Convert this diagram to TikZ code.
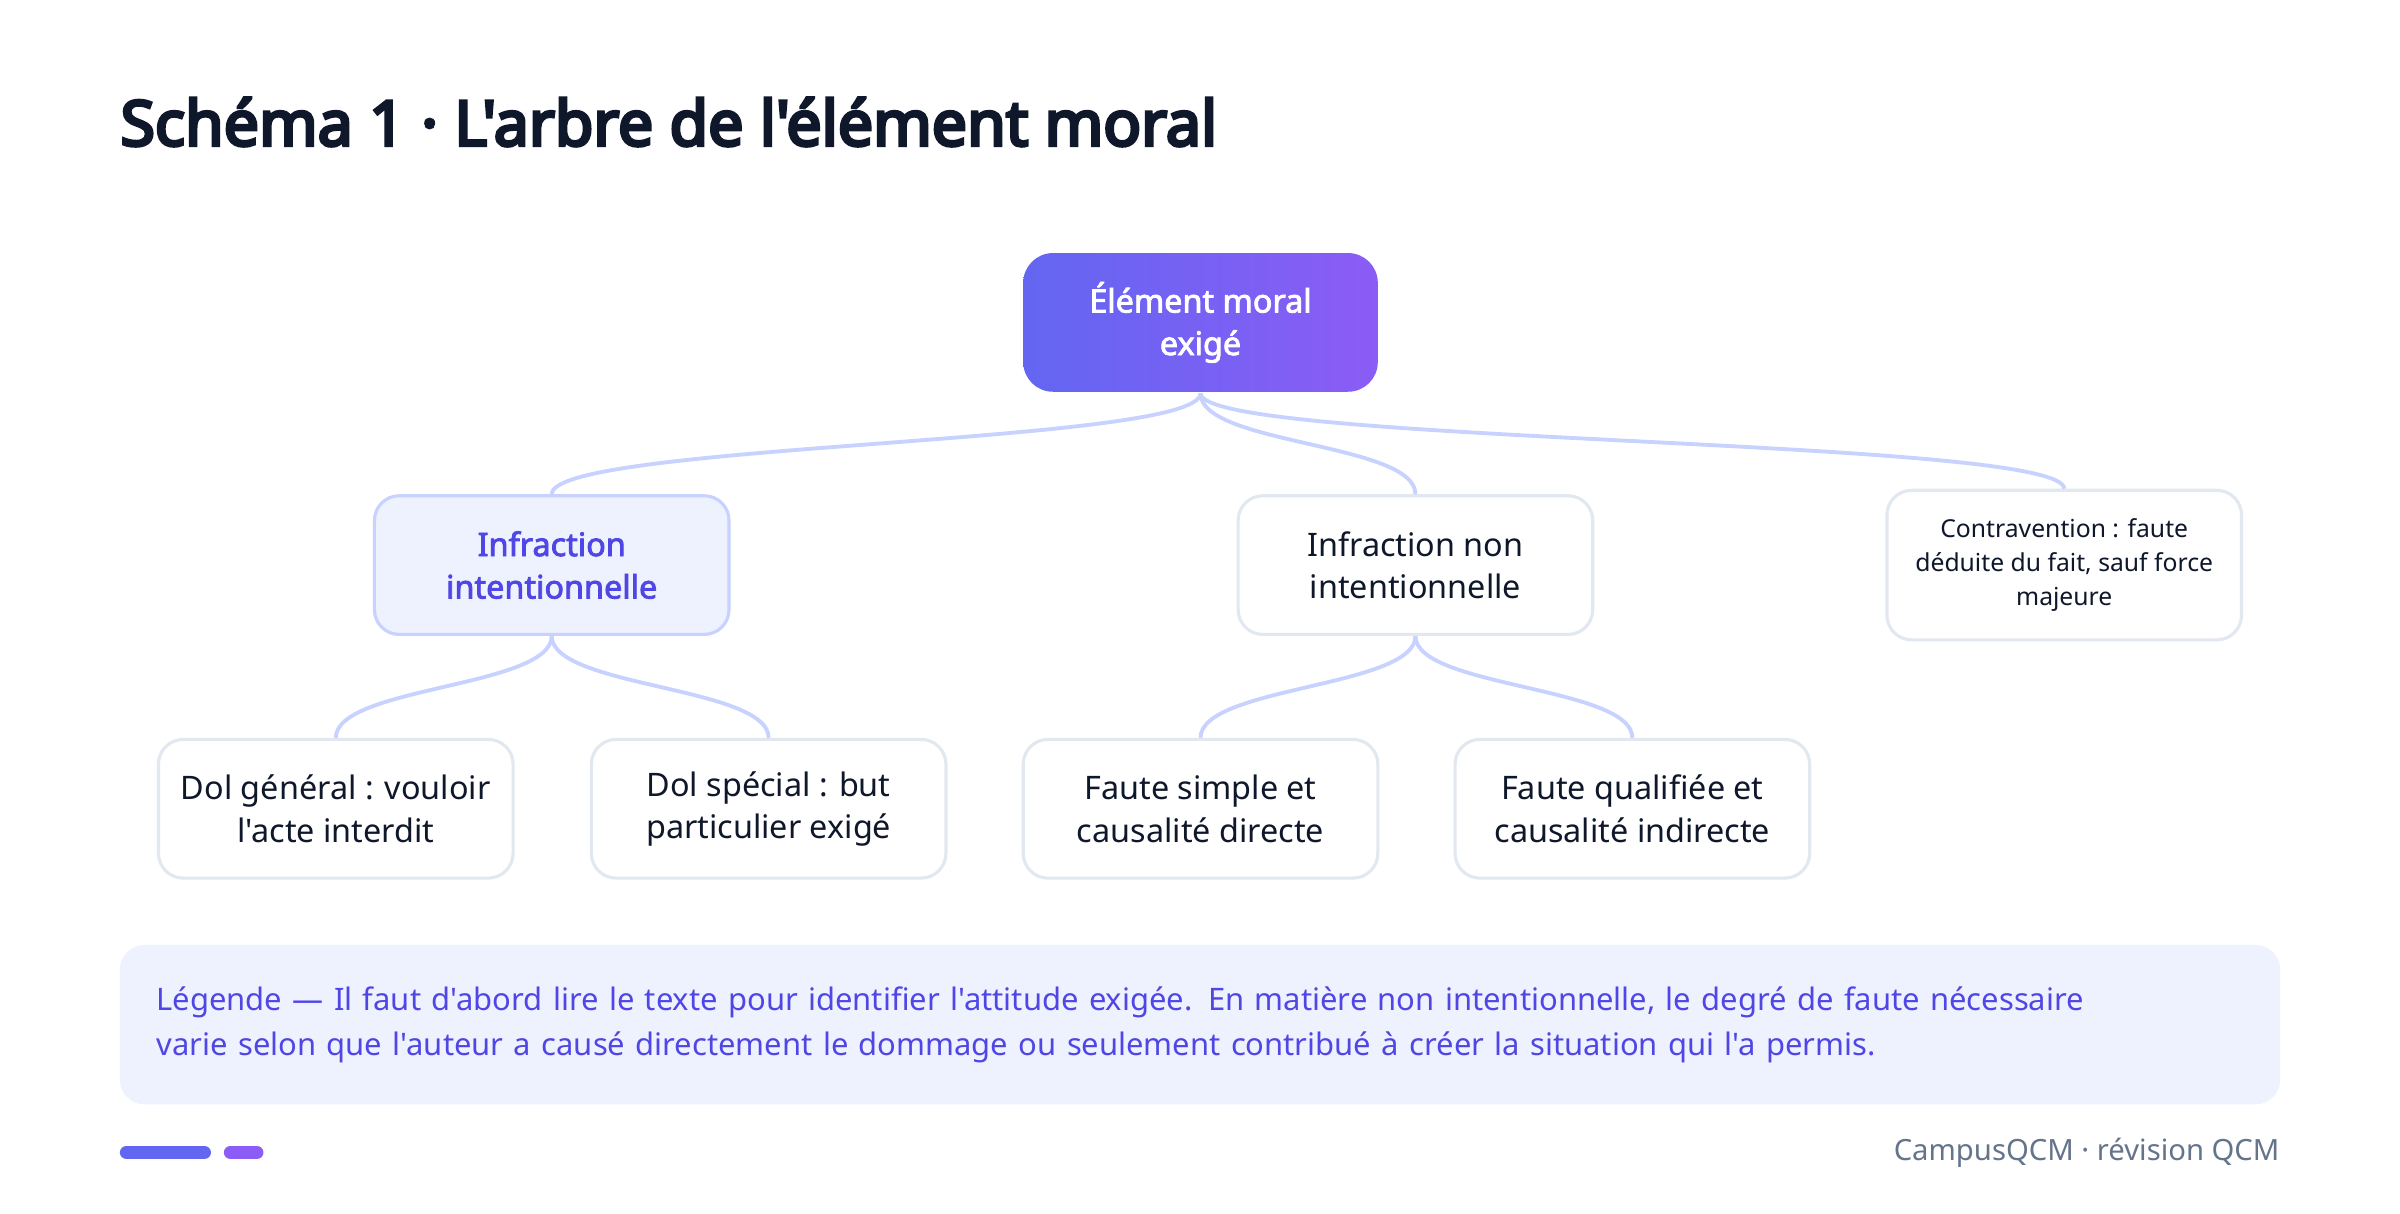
\documentclass[tikz,border=0pt]{standalone}
\usepackage{fontspec}
\IfFontExistsTF{NotoSans-Bold.ttf}
  {\setmainfont{NotoSans}[Extension=.ttf, UprightFont=*-Regular, BoldFont=*-Bold, Ligatures=TeXOff]}
  {\setmainfont{Noto Sans}[Ligatures=TeXOff, BoldFont={Noto Sans}, BoldFeatures={FakeBold=2.5}]}
\IfFontExistsTF{NotoSans-Black.ttf}
  {\newfontfamily\titlefont{NotoSans-Black.ttf}[Ligatures=TeXOff]}
  {\newfontfamily\titlefont{Noto Sans}[Ligatures=TeXOff, FakeBold=5]}
\usetikzlibrary{positioning}

\definecolor{ink}{HTML}{0F172A}
\definecolor{indigo}{HTML}{6366F1}
\definecolor{violet}{HTML}{8B5CF6}
\definecolor{deepindigo}{HTML}{4F46E5}
\definecolor{paleindigo}{HTML}{EEF2FF}
\definecolor{lineindigo}{HTML}{C7D2FE}
\definecolor{cardgray}{HTML}{E2E8F0}
\definecolor{slate}{HTML}{64748B}

\tikzset{
  card/.style={draw=cardgray, line width=0.9pt, fill=white, rounded corners=0.25cm,
    minimum width=3.58cm, minimum height=1.4cm, align=center, text=ink,
    font=\fontsize{9.3}{12.2}\selectfont},
  rootcard/.style={card, draw=none, left color=indigo, right color=violet, text=white,
    rounded corners=0.3cm, font=\bfseries\fontsize{9.3}{12.2}\selectfont},
  keycard/.style={card, draw=lineindigo, fill=paleindigo, text=deepindigo,
    font=\bfseries\fontsize{9.3}{12.2}\selectfont},
  smallcard/.style={card, minimum height=1.51cm, font=\fontsize{7.1}{9.7}\selectfont},
  branch/.style={draw=lineindigo, line width=1.1pt,
    to path={.. controls +(0,-0.52) and +(0,0.52) .. (\tikztotarget) \tikztonodes}},
}

\begin{document}
\begin{tikzpicture}[on grid]
  \useasboundingbox[fill=white] (0,-0.115) rectangle (24.23,12.14);

  \node[anchor=base west, inner sep=0, text=ink, font=\titlefont\fontsize{18}{22}\selectfont]
    (title) at (1.21,10.67) {Schéma 1 · L'arbre de l'élément moral};

  \node[rootcard] (root) at (12.12,8.885) {Élément moral\\exigé};
  \node[keycard] (intent) [below left=2.45cm and 6.55cm of root] {Infraction\\intentionnelle};
  \node[card] (nonintent) [below right=2.45cm and 2.17cm of root] {Infraction non\\intentionnelle};
  \node[smallcard] (contra) [below right=2.45cm and 8.72cm of root] {Contravention : faute\\déduite du fait, sauf force\\majeure};
  \node[card] (dolgen) [below left=2.46cm and 2.18cm of intent] {Dol général : vouloir\\l'acte interdit};
  \node[card] (dolspec) [below right=2.46cm and 2.19cm of intent] {Dol spécial : but\\particulier exigé};
  \node[card] (fsimple) [below left=2.46cm and 2.17cm of nonintent] {Faute simple et\\causalité directe};
  \node[card] (fqual) [below right=2.46cm and 2.19cm of nonintent] {Faute qualifiée et\\causalité indirecte};

  \path
    (root.south) edge[branch] (intent.north)
    (root.south) edge[branch] (nonintent.north)
    (root.south) edge[branch] (contra.north)
    (intent.south) edge[branch] (dolgen.north)
    (intent.south) edge[branch] (dolspec.north)
    (nonintent.south) edge[branch] (fsimple.north)
    (nonintent.south) edge[branch] (fqual.north);

  \node[fill=paleindigo, rounded corners=0.25cm, inner xsep=0.37cm, text width=21.07cm,
    minimum height=1.61cm, align=left, text=deepindigo, font=\fontsize{8.9}{13.1}\selectfont]
    (legend) at (12.115,1.795) {Légende — Il faut d'abord lire le texte pour identifier l'attitude exigée. En matière non intentionnelle, le degré de faute nécessaire\\varie selon que l'auteur a causé directement le dommage ou seulement contribué à créer la situation qui l'a permis.};

  \fill[indigo, rounded corners=0.065cm] (1.21,0.44) rectangle (2.13,0.57);
  \fill[violet, rounded corners=0.065cm] (2.26,0.44) rectangle (2.66,0.57);
  \node[anchor=east, inner sep=0, text=slate, font=\fontsize{8.4}{10}\selectfont]
    (footer) at (23.02,0.50) {CampusQCM · révision QCM};
\end{tikzpicture}
\end{document}
